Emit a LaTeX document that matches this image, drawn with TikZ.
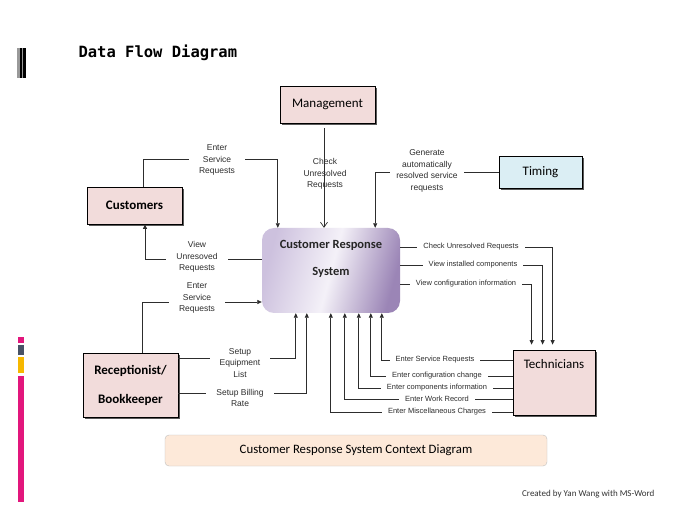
\documentclass[tikz,border=0pt]{standalone}
\usepackage{fontspec}
\setmainfont{Carlito}
\newfontfamily\lblfont{Liberation Sans}
\newfontfamily\titlefont{DejaVu Sans Mono}
\usetikzlibrary{arrows.meta, shadows}
\definecolor{entity}{RGB}{242, 220, 219}
\definecolor{timer}{RGB}{219, 238, 244}
\definecolor{banner}{RGB}{253, 233, 217}
\definecolor{lavlight}{RGB}{244, 241, 248}
\definecolor{lavmid}{RGB}{205, 193, 222}
\definecolor{lavdark}{RGB}{155, 133, 182}
\definecolor{ink}{RGB}{45, 45, 45}
\definecolor{barpink}{RGB}{226, 22, 124}
\definecolor{slate}{RGB}{72, 82, 102}
\definecolor{amber}{RGB}{246, 184, 0}

\begin{document}
\begin{tikzpicture}[x=1pt, y=-1pt,
  entitybox/.style={draw=black, fill=entity, line width=0.8pt, inner sep=0pt,
    font=\fontsize{13}{16}\selectfont,
    drop shadow={shadow xshift=2pt, shadow yshift=-2pt, fill=black!65, opacity=1}},
  flow/.style={draw=ink, line width=0.7pt, -{Triangle[length=4.5pt, width=4pt]}},
  lbl/.style={fill=white, text=ink, align=center, inner xsep=10pt, inner ysep=2pt,
    font=\lblfont\fontsize{8.5}{11.5}\selectfont},
  sidelbl/.style={fill=white, text=ink, inner xsep=6pt, inner ysep=1pt,
    font=\lblfont\fontsize{7.5}{9}\selectfont}]
  \useasboundingbox (0,0) rectangle (680,510);
  \fill[white] (0,0) rectangle (680,510);

  % Side bars
  \fill[black!40] (17,48) rectangle (26,78);
  \fill[black] (19.5,48) rectangle (22,78);
  \fill[black] (23,48) rectangle (25.5,78);
  \fill[barpink] (18,337) rectangle (24,343);
  \fill[slate] (18,345) rectangle (24,355);
  \fill[amber] (18,357) rectangle (24,373);
  \fill[barpink] (18,376) rectangle (24,502);

  \node[anchor=base west, font=\titlefont\bfseries\fontsize{15.5}{18}\selectfont] (title) at (75,58) {Data Flow Diagram};

  % External entities
  \node[entitybox, minimum width=95pt, minimum height=37pt] (mgmt) at (327.5,104.5) {Management};
  \node[entitybox, minimum width=95pt, minimum height=37pt, font=\bfseries\fontsize{13}{16}\selectfont] (cust) at (134.5,205.5) {Customers};
  \node[entitybox, fill=timer, minimum width=83pt, minimum height=32pt] (timing) at (540.5,172) {Timing};
  \node[entitybox, minimum width=95pt, minimum height=64pt, align=center, font=\bfseries\fontsize{13}{29}\selectfont] (recp) at (130.5,385) {Receptionist/\\Bookkeeper};
  \node[entitybox, minimum width=82pt, minimum height=65pt] (tech) at (554,382.5) {};
  \node[anchor=north, font=\fontsize{13}{16}\selectfont] (techtxt) at ([yshift=-6pt]tech.north) {Technicians};

  % The system
  \node[minimum width=138pt, minimum height=85pt, rounded corners=12pt,
    top color=lavmid, bottom color=lavdark, middle color=lavlight, shading angle=75] (sys) at (331,270.5) {};
  \node[align=center, text=black!85, font=\bfseries\fontsize{12.5}{27}\selectfont] (systxt) at (331,258.5) {Customer Response\\System};

  % Customers and management
  \draw[flow] ([xshift=8.5pt]cust.north) -- ++(0,-27) -| ([xshift=16pt]sys.north west);
  \draw[flow] ([yshift=11.5pt]sys.west) -| ([xshift=10.5pt]cust.south);
  \draw[flow, -{Straight Barb[length=5pt, width=7pt]}] ([xshift=-3.5pt, yshift=-5pt]mgmt.south) -- ([xshift=-7pt]sys.north);
  \draw[flow] (timing.west) -| ([xshift=-25pt]sys.north east);

  % Receptionist
  \draw[flow] ([xshift=11.5pt]recp.north) |- ([yshift=-31.5pt]sys.west);
  \draw[flow] ([yshift=27pt]recp.east) -| ([xshift=34pt]sys.south west);
  \draw[flow] ([yshift=-8pt]recp.east) -| ([xshift=45pt]sys.south west);

  % Technicians
  \draw[flow] ([yshift=22.5pt]tech.west) -| ([xshift=120pt]sys.south west);
  \draw[flow] ([yshift=6.5pt]tech.west) -| ([xshift=109pt]sys.south west);
  \draw[flow] ([yshift=-5.5pt]tech.west) -| ([xshift=97pt]sys.south west);
  \draw[flow] ([yshift=-16.5pt]tech.west) -| ([xshift=83pt]sys.south west);
  \draw[flow] ([yshift=-29.5pt]tech.west) -| ([xshift=69pt]sys.south west);
  \draw[flow, shorten >=5pt] ([yshift=23.5pt]sys.east) -| ([xshift=40pt]tech.north west);
  \draw[flow, shorten >=5pt] ([yshift=5.5pt]sys.east) -| ([xshift=30pt]tech.north west);
  \draw[flow, shorten >=5pt] ([yshift=-13.5pt]sys.east) -| ([xshift=19pt]tech.north west);

  % Flow labels
  \node[lbl] (l-enter1) at (217,160) {Enter\\Service\\Requests};
  \node[lbl, fill=none] (l-check1) at (325,174) {Check\\Unresolved\\Requests};
  \node[lbl, inner xsep=6pt] (l-gen) at (427,171) {Generate\\automatically\\resolved service\\requests};
  \node[lbl] (l-view1) at (197,257) {View\\Unresoved\\Requests};
  \node[lbl] (l-enter2) at (197,298) {Enter\\Service\\Requests};
  \node[lbl] (l-equip) at (240,363) {Setup\\Equipment\\List};
  \node[lbl] (l-billing) at (240,398) {Setup Billing\\Rate};
  \node[sidelbl] (l-check2) at (471,247) {Check Unresolved Requests};
  \node[sidelbl] (l-install) at (473,265) {View installed components};
  \node[sidelbl] (l-config) at (466,284) {View configuration information};
  \node[sidelbl] (l-service) at (435,360) {Enter Service Requests};
  \node[sidelbl] (l-change) at (437,376) {Enter configuration change};
  \node[sidelbl] (l-comp) at (437,388) {Enter components information};
  \node[sidelbl] (l-work) at (437,399) {Enter Work Record};
  \node[sidelbl] (l-misc) at (437,412) {Enter Miscellaneous Charges};

  % Caption
  \node[draw=black!25, fill=banner, rounded corners=4pt, minimum width=382pt, minimum height=31pt,
    font=\fontsize{12.8}{15}\selectfont] (caption) at (356,450.5) {Customer Response System Context Diagram};
  \node[anchor=east, text=black!80, font=\fontsize{9}{11}\selectfont] (credit) at (658,494) {Created by Yan Wang with MS-Word};
\end{tikzpicture}
\end{document}
